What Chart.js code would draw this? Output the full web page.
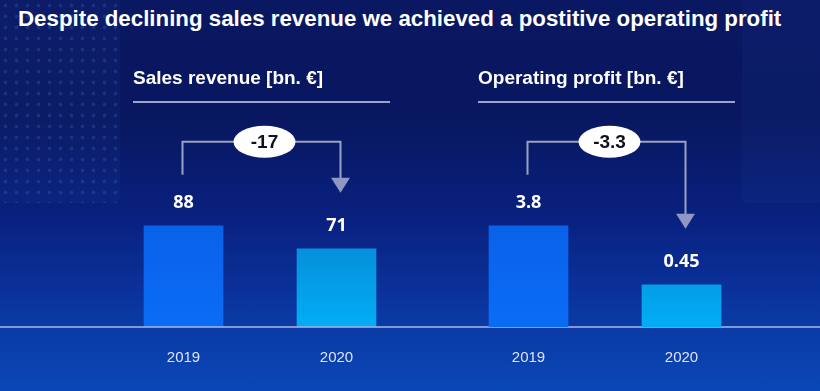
<!DOCTYPE html>
<html>
<head>
<meta charset="utf-8">
<script src="https://cdn.jsdelivr.net/npm/chart.js@4.4.0/dist/chart.umd.min.js"></script>
<style>
html, body { margin: 0; padding: 0; }
body {
    width: 820px; height: 391px; overflow: hidden; position: relative;
    background: linear-gradient(180deg, #0a1762 0%, #08175f 30%, #09207e 55%, #0a319a 74%, #0b3ba6 84%, #0a47b7 100%);
}
.side { position: absolute; top: 0; height: 203px; background: rgba(45, 85, 175, 0.09); border-radius: 0 0 4px 4px; }
#sideL { left: 0; width: 120px;
    background-image: radial-gradient(circle, rgba(80, 125, 215, 0.22) 1.6px, transparent 2.2px);
    background-size: 11px 11px; background-color: rgba(45, 85, 175, 0.09); }
#sideR { left: 742px; width: 78px; }
#title {
    position: absolute; left: 18px; top: 6px; white-space: nowrap;
    font: bold 22.3px "Liberation Sans", Arial, sans-serif; color: #fff;
}
canvas { position: absolute; left: 0; top: 0; }
</style>
</head>
<body>
<div class="side" id="sideL"></div>
<div class="side" id="sideR"></div>
<div id="title">Despite declining sales revenue we achieved a postitive operating profit</div>
<canvas id="salesChart" width="820" height="391"></canvas>
<canvas id="profitChart" width="820" height="391"></canvas>
<script>
// data
var years = ['2019', '2020'];
var salesRevenue = [88, 71];
var operatingProfit = [3.8, 0.45];
var valueLabels = [['88', '71'], ['3.8', '0.45']];
var deltaLabels = ['-17', '-3.3'];
var panelTitles = ['Sales revenue [bn. €]', 'Operating profit [bn. €]'];

(function () {
    "use strict";

    // 2019 bars plain blue, 2020 bars fade to cyan
    function barFill(c) {
        var area = c.chart.chartArea;
        if (!area) return '#0a64f0';
        var g = c.chart.ctx.createLinearGradient(0, area.top, 0, area.bottom);
        if (c.dataIndex === 0) {
            g.addColorStop(0, '#0a56dc');
            g.addColorStop(1, '#0a6cf6');
        } else {
            g.addColorStop(0, '#0672c4');
            g.addColorStop(0.55, '#068ad6');
            g.addColorStop(1, '#02adf6');
        }
        return g;
    }

    /* headings, value labels, delta arrows */
    var deco = {
        id: 'deco',
        afterDatasetsDraw: function (chart, args, opts) {
            var ctx = chart.ctx, a = chart.chartArea;
            var bars = chart.getDatasetMeta(0).data;
            ctx.save();

            if (opts.baseline) {
                ctx.strokeStyle = 'rgba(150, 170, 225, 0.85)';
                ctx.lineWidth = 2;
                ctx.beginPath();
                ctx.moveTo(0, a.bottom);
                ctx.lineTo(820, a.bottom);
                ctx.stroke();
            }

            // panel heading
            ctx.fillStyle = '#ffffff';
            ctx.font = 'bold 19px "Liberation Sans", Arial, sans-serif';
            ctx.textBaseline = 'middle';
            ctx.textAlign = 'left';
            ctx.fillText(opts.heading, a.left + 26, a.top - 41);
            ctx.strokeStyle = 'rgba(170, 178, 215, 0.9)';
            ctx.lineWidth = 2;
            ctx.beginPath();
            ctx.moveTo(a.left + 26, a.top - 18);
            ctx.lineTo(a.right - 23, a.top - 18);
            ctx.stroke();

            // values over bars
            ctx.font = 'bold 18px "Open Sans", sans-serif';
            ctx.textAlign = 'center';
            bars.forEach(function (b, i) {
                ctx.fillText(opts.values[i], b.x, b.y - 23);
            });

            // delta arrow
            var x0 = bars[0].x - 1, x1 = bars[1].x + 4;
            var hy = bars[0].y - 84;
            var tip = bars[1].y - 56;
            ctx.strokeStyle = '#9aa1c6';
            ctx.lineWidth = 2;
            ctx.beginPath();
            ctx.moveTo(x0, bars[0].y - 51);
            ctx.lineTo(x0, hy);
            ctx.lineTo(x1, hy);
            ctx.lineTo(x1, tip - 14);
            ctx.stroke();
            ctx.fillStyle = '#8f97c2';
            ctx.beginPath();
            ctx.moveTo(x1 - 9.5, tip - 15);
            ctx.lineTo(x1 + 9.5, tip - 15);
            ctx.lineTo(x1, tip);
            ctx.closePath();
            ctx.fill();

            var cx = (x0 + x1) / 2 + 3;
            ctx.fillStyle = '#ffffff';
            ctx.beginPath();
            ctx.ellipse(cx, hy, 31, 16, 0, 0, Math.PI * 2);
            ctx.fill();
            ctx.fillStyle = '#10131f';
            ctx.font = 'bold 19px "Liberation Sans", Arial, sans-serif';
            ctx.fillText(opts.delta, cx, hy + 1);

            ctx.restore();
        }
    };

    function makeChart(id, values, yMin, yMax, padL, padR, idx) {
        return new Chart(document.getElementById(id), {
            type: 'bar',
            data: {
                labels: years,
                datasets: [{
                    data: values,
                    base: yMin,
                    barThickness: 79,
                    backgroundColor: barFill,
                    borderWidth: 0
                }]
            },
            options: {
                responsive: false,
                animation: false,
                layout: { padding: { left: padL, right: padR, top: 120, bottom: 24 } },
                scales: {
                    x: {
                        grid: { display: false, drawTicks: false },
                        border: { display: false },
                        ticks: {
                            color: '#dfe3f4',
                            padding: 22,
                            font: { family: '"Liberation Sans", Arial, sans-serif', size: 15 }
                        },
                        afterFit: function (s) { s.height = 40; }
                    },
                    y: { display: false, min: yMin, max: yMax }
                },
                plugins: {
                    legend: { display: false },
                    tooltip: { enabled: false },
                    deco: {
                        heading: panelTitles[idx],
                        values: valueLabels[idx],
                        delta: deltaLabels[idx],
                        baseline: idx === 0
                    }
                }
            },
            plugins: [deco]
        });
    }

    makeChart('salesChart', salesRevenue, 13.4, 166, 107, 407, 0);
    makeChart('profitChart', operatingProfit, -1.94, 9.8, 452, 62, 1);
})();
</script>
</body>
</html>
